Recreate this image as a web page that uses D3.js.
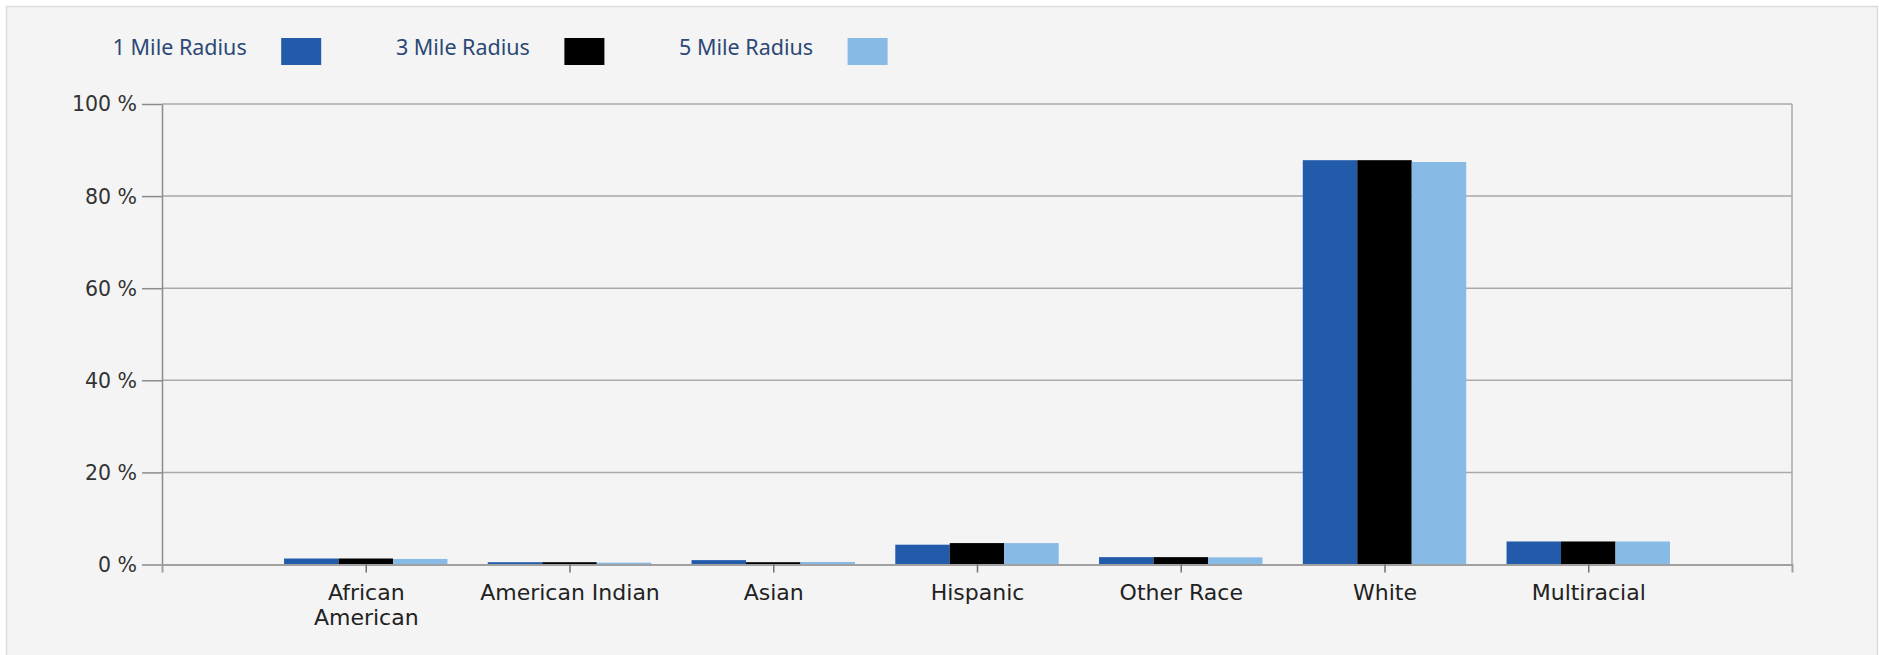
<!DOCTYPE html>
<html>
<head>
<meta charset="utf-8">
<script src="https://cdn.jsdelivr.net/npm/d3@7"></script>
<style>
  html, body { margin: 0; padding: 0; background: #ffffff; }
  svg { display: block; }
</style>
</head>
<body>
<svg id="chart" width="1879" height="655"></svg>
<script>
// Race breakdown by trade-area radius (percent of population)
const categories = ["African American", "American Indian", "Asian", "Hispanic", "Other Race", "White", "Multiracial"];
const series = ["1 Mile Radius", "3 Mile Radius", "5 Mile Radius"];
const mile1 = [1.3, 0.5, 0.95, 4.3, 1.6, 87.8, 5.0];
const mile3 = [1.3, 0.5, 0.5, 4.65, 1.6, 87.8, 5.0];
const mile5 = [1.2, 0.4, 0.55, 4.65, 1.55, 87.4, 5.0];
const yTicks = [0, 20, 40, 60, 80, 100];
const colors = ["#235bab", "#000000", "#88bae6"];

const values = [mile1, mile3, mile5];
const svg = d3.select("#chart");

// card background
svg.append("rect")
  .attr("x", 6.5).attr("y", 6.5)
  .attr("width", 1871).attr("height", 660)
  .attr("fill", "#f4f4f4")
  .attr("stroke", "#dcdcdc").attr("stroke-width", 1.5);

const plot = { left: 162, right: 1792, top: 104, bottom: 564.5 };

const x = d3.scalePoint().domain(categories).range([plot.left, plot.right]).padding(1);
const groupW = x.step() * 0.802;
const xs = d3.scaleBand().domain(series).range([-groupW / 2, groupW / 2]).padding(0);
const y = d3.scaleLinear().domain([0, 100]).range([plot.bottom, plot.top]);

const gridColor = "#a9a9a9";

// horizontal gridlines
svg.append("g").selectAll("line").data(yTicks.filter(d => d > 0)).join("line")
  .attr("x1", plot.left).attr("x2", plot.right)
  .attr("y1", d => y(d)).attr("y2", d => y(d))
  .attr("stroke", gridColor).attr("stroke-width", 1.5);

// right frame edge
svg.append("line")
  .attr("x1", plot.right).attr("x2", plot.right)
  .attr("y1", plot.top).attr("y2", plot.bottom)
  .attr("stroke", gridColor).attr("stroke-width", 1.5);

// bars
const groups = svg.append("g").selectAll("g").data(categories).join("g")
  .attr("transform", d => `translate(${x(d)},0)`);
groups.selectAll("rect")
  .data((c, i) => series.map((s, k) => ({ s, k, v: values[k][i] })))
  .join("rect")
  .attr("x", d => xs(d.s))
  .attr("width", xs.bandwidth())
  .attr("y", d => y(d.v))
  .attr("height", d => y(0) - y(d.v))
  .attr("fill", d => colors[d.k]);

// y axis
const yAxis = svg.append("g")
  .attr("transform", `translate(${plot.left},0)`)
  .call(d3.axisLeft(y).tickValues(yTicks).tickFormat(d => d + " %").tickSize(20).tickSizeOuter(0).tickPadding(5));
yAxis.select(".domain").attr("stroke", "#8c8c8c").attr("stroke-width", 1.5);
yAxis.selectAll(".tick line").attr("stroke", "#8c8c8c").attr("stroke-width", 1.5);
yAxis.selectAll(".tick text")
  .attr("fill", "#333333")
  .style("font-family", "'DejaVu Sans', sans-serif")
  .style("font-size", "20.5px")
  .attr("dy", "0.34em");

// x axis
const labelLines = { "African American": ["African", "American"] };
const xAxis = svg.append("g")
  .attr("transform", `translate(0,${plot.bottom})`)
  .call(d3.axisBottom(x).tickSize(8).tickSizeOuter(8).tickFormat(""));
xAxis.select(".domain").attr("stroke", "#a0a0a0").attr("stroke-width", 2);
xAxis.selectAll(".tick line").attr("stroke", "#6f6f6f").attr("stroke-width", 1.5);
xAxis.selectAll(".tick").each(function (d) {
  const lines = labelLines[d] || [d];
  const t = d3.select(this).append("text")
    .attr("fill", "#222222")
    .attr("text-anchor", "middle")
    .style("font-family", "'DejaVu Sans', sans-serif")
    .style("font-size", "22px");
  lines.forEach((ln, i) => {
    t.append("tspan").attr("x", 0).attr("y", 35.5 + i * 25).text(ln);
  });
});

// legend
const legend = svg.append("g").selectAll("g").data(series).join("g")
  .attr("transform", (d, i) => `translate(${112.7 + i * 283.2},0)`);
legend.append("text")
  .attr("x", 0).attr("y", 55)
  .attr("fill", "#2c4874")
  .style("font-family", "'Noto Sans', sans-serif")
  .style("font-size", "21.5px")
  .text(d => d);
legend.append("rect")
  .attr("x", 168.5).attr("y", 38)
  .attr("width", 40).attr("height", 27)
  .attr("fill", (d, i) => colors[i]);
</script>
</body>
</html>
